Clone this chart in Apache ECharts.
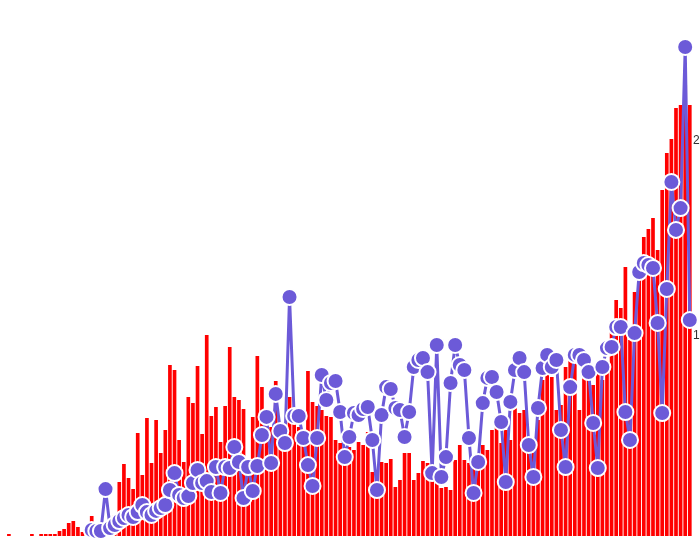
<!DOCTYPE html>
<html><head><meta charset="utf-8">
<script src="https://cdn.jsdelivr.net/npm/echarts@6/dist/echarts.min.js"></script>
<style>html,body{margin:0;padding:0;background:#fff}#c{width:700px;height:544px}</style>
</head><body><div id="c"></div>
<script>
const categories = Array.from({length:149},(_,i)=>String(i+1));
const barValues = [10,0,0,0,0,10,0,10,10,10,
10,25,35,65,75,45,20,30,100,45,
30,40,55,105,270,360,290,235,515,305,
590,365,580,415,530,855,830,480,370,695,
665,850,510,1005,600,645,470,650,945,695,
680,635,345,595,900,745,565,545,775,480,
430,695,580,545,480,825,670,650,630,600,
595,480,465,445,445,430,470,455,520,320,
255,370,365,385,245,280,415,415,280,315,
375,365,315,295,240,245,230,380,455,380,
365,365,345,455,430,530,545,465,530,480,
640,615,630,495,415,580,780,815,795,630,
655,845,895,915,630,880,855,755,815,780,
870,1070,1180,1140,1345,980,1220,1320,1495,1535,
1590,1430,1730,1915,1985,2140,2155,2255,2155];
const lineValues = [null,null,null,null,null,null,null,null,null,null,null,null,null,null,null,null,null,null,
5,0,0,215,15,31,51,67,82,72,
97,133,97,82,103,118,133,210,297,185,
169,179,246,313,246,256,200,328,195,328,
323,431,354,169,328,205,333,492,585,349,
703,513,451,1200,590,590,477,338,231,477,
800,672,759,769,610,379,482,605,595,626,
636,467,210,595,738,728,631,620,482,610,
841,877,887,815,297,954,277,379,759,954,
851,826,477,195,354,656,785,790,713,559,
251,662,826,887,815,441,277,631,836,903,
841,877,518,328,738,903,903,877,815,554,
323,841,938,944,1046,1046,610,467,1015,1328,
1374,1364,1349,1067,605,1241,1790,1544,1656,2482,
1082];
const rightTicks = {1000:'1', 2000:'2'};

const chart = echarts.init(document.getElementById('c'), null, {renderer:'canvas'});
chart.setOption({
  animation:false,
  grid:[{left:6.6,right:7.9,top:36,bottom:8,outerBoundsMode:'none'},{left:6.6,right:7.9,top:24,bottom:13,outerBoundsMode:'none'}],
  xAxis:[
    {type:'category',gridIndex:0,data:categories,show:false},
    {type:'category',gridIndex:1,data:categories,show:false}
  ],
  yAxis:[
    {type:'value',gridIndex:0,min:0,max:2500,show:false},
    {type:'value',gridIndex:1,position:'right',min:0,max:2600,interval:1000,
     axisLine:{show:false},axisTick:{show:false},splitLine:{show:false},
     axisLabel:{margin:1,color:'#333',fontSize:12,fontFamily:'sans-serif',hideOverlap:false,
       formatter:v=>rightTicks[v]||''}}
  ],
  series:[
    {type:'bar',xAxisIndex:0,yAxisIndex:0,data:barValues,itemStyle:{color:'#ff0000'},barCategoryGap:'20%'},
    {type:'line',xAxisIndex:1,yAxisIndex:1,data:lineValues,symbol:'circle',symbolSize:16,showAllSymbol:true,
     lineStyle:{color:'#6c5ad8',width:3},
     itemStyle:{color:'#6c5ad8',borderColor:'#fff',borderWidth:2}}
  ]
});
</script></body></html>
